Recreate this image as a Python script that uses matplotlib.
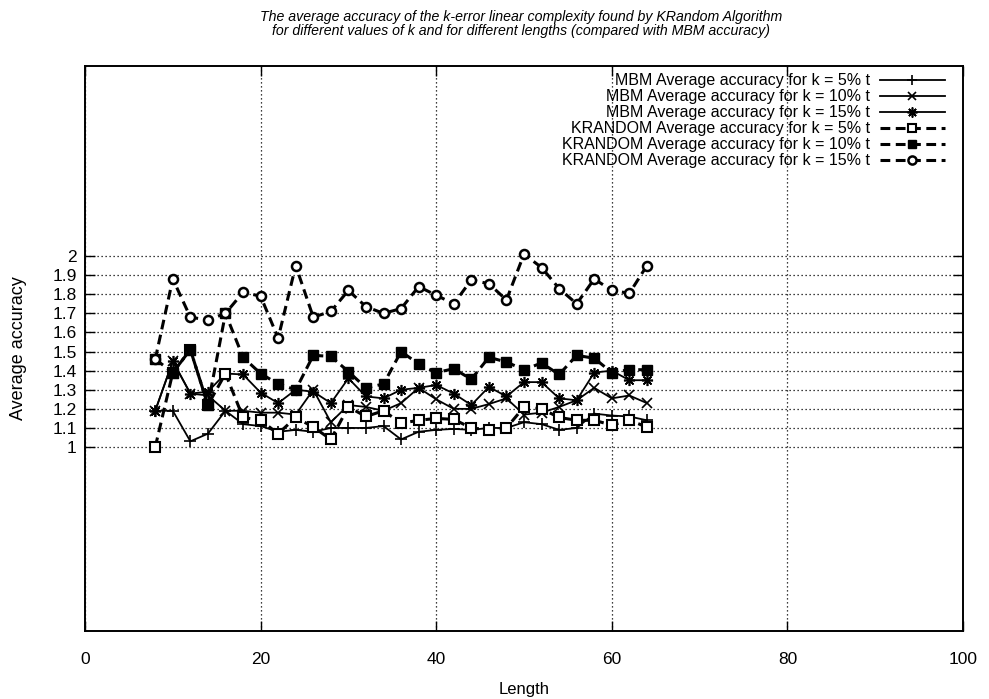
import matplotlib
matplotlib.use("Agg")
import matplotlib.pyplot as plt
from matplotlib.lines import Line2D

plt.rcParams['font.family'] = ['Liberation Sans', 'DejaVu Sans']

lengths = [8, 10, 12, 14, 16, 18, 20, 22, 24, 26, 28, 30, 32, 34, 36, 38,
           40, 42, 44, 46, 48, 50, 52, 54, 56, 58, 60, 62, 64]

mbm_5 = [1.19, 1.19, 1.03, 1.07, 1.19, 1.12, 1.11, 1.08, 1.09, 1.08, 1.10, 1.10,
         1.10, 1.11, 1.04, 1.08, 1.09, 1.095, 1.09, 1.10, 1.10, 1.13, 1.12, 1.09,
         1.10, 1.175, 1.165, 1.16, 1.14]
mbm_10 = [1.19, 1.45, 1.28, 1.27, 1.19, 1.19, 1.18, 1.18, 1.17, 1.30, 1.13, 1.22,
          1.21, 1.19, 1.23, 1.31, 1.25, 1.20, 1.20, 1.225, 1.255, 1.17, 1.18, 1.21,
          1.245, 1.31, 1.255, 1.27, 1.23]
mbm_15 = [1.19, 1.45, 1.28, 1.29, 1.385, 1.38, 1.285, 1.23, 1.30, 1.29, 1.23, 1.36,
          1.265, 1.255, 1.30, 1.31, 1.325, 1.28, 1.22, 1.315, 1.265, 1.34, 1.34,
          1.255, 1.245, 1.39, 1.40, 1.35, 1.35]
krandom_5 = [1.00, 1.39, 1.51, 1.22, 1.385, 1.155, 1.14, 1.07, 1.155, 1.105, 1.04,
             1.21, 1.16, 1.19, 1.125, 1.14, 1.15, 1.145, 1.10, 1.09, 1.10, 1.21,
             1.20, 1.155, 1.14, 1.14, 1.115, 1.14, 1.105]
krandom_10 = [1.46, 1.39, 1.51, 1.22, 1.70, 1.47, 1.385, 1.33, 1.30, 1.48, 1.475,
              1.395, 1.31, 1.33, 1.50, 1.435, 1.39, 1.41, 1.355, 1.47, 1.445, 1.405,
              1.44, 1.38, 1.48, 1.465, 1.39, 1.405, 1.405]
krandom_15 = [1.46, 1.88, 1.68, 1.665, 1.70, 1.81, 1.79, 1.57, 1.95, 1.68, 1.71,
              1.82, 1.735, 1.70, 1.725, 1.84, 1.795, 1.75, 1.875, 1.855, 1.77, 2.01,
              1.94, 1.83, 1.75, 1.88, 1.82, 1.805, 1.95]

labels = [
    "MBM Average accuracy for k = 5% t",
    "MBM Average accuracy for k = 10% t",
    "MBM Average accuracy for k = 15% t",
    "KRANDOM Average accuracy for k = 5% t",
    "KRANDOM Average accuracy for k = 10% t",
    "KRANDOM Average accuracy for k = 15% t",
]

title = ("The average accuracy of the k-error linear complexity found by KRandom Algorithm\n"
         "for different values of k and for different lengths (compared with MBM accuracy)")

x_ticks = [0, 20, 40, 60, 80, 100]
y_ticks = [1, 1.1, 1.2, 1.3, 1.4, 1.5, 1.6, 1.7, 1.8, 1.9, 2]
y_tick_labels = ["1", "1.1", "1.2", "1.3", "1.4", "1.5", "1.6", "1.7", "1.8", "1.9", "2"]

asterisk = (8, 2, 0)
solid = dict(color='black', lw=1.3, linestyle='-')
dashed = dict(color='black', lw=2.2, linestyle=(0, (3.2, 1.8)))
styles = [
    dict(marker='+', ms=8, mew=1.2, **solid),
    dict(marker='x', ms=6.5, mew=1.2, **solid),
    dict(marker=asterisk, ms=8, mew=1.2, **solid),
    dict(marker='s', ms=6.5, mfc='white', mec='black', mew=1.5, **dashed),
    dict(marker='s', ms=7, mfc='black', mec='black', mew=1.0, **dashed),
    dict(marker='o', ms=6.5, mfc='white', mec='black', mew=1.8, **dashed),
]
series = [mbm_5, mbm_10, mbm_15, krandom_5, krandom_10, krandom_15]

W, H = 989, 699
fig = plt.figure(figsize=(W / 100, H / 100), dpi=100)
left, right, top, bottom = 85, 963, 66, 631
ax = fig.add_axes([left / W, 1 - bottom / H, (right - left) / W, (bottom - top) / H])

for vals, st in zip(series, styles):
    ax.plot(lengths, vals, dash_capstyle='butt', **st)

ax.set_xlim(0, 100)
ax.set_ylim(0.037, 2.995)
ax.set_xticks(x_ticks)
ax.set_yticks(y_ticks)
ax.set_yticklabels(y_tick_labels)
ax.tick_params(direction='in', length=7, width=1.0, top=True, right=True,
               labelsize=12.5)
ax.tick_params(axis='x', pad=15)
ax.tick_params(axis='y', pad=6)
ax.grid(True, color='black', linestyle=(0, (1, 2.2)), linewidth=0.9)
for s in ax.spines.values():
    s.set_linewidth(1.4)

ax.set_xlabel("Length", fontsize=12, labelpad=11)
ax.set_ylabel("Average accuracy", fontsize=13, labelpad=18)

fig.text(0.527, 0.985, title, ha='center', va='top', fontsize=10.2, style='italic',
         linespacing=1.0)

# key in the upper right, text right-aligned with the sample line on its right
row_y = [80, 96, 112, 128, 144, 160]
for lab, st, yp in zip(labels, styles, row_y):
    yf = 1 - yp / H
    fig.text(870 / W, yf, lab, ha='right', va='center', fontsize=11.5)
    st_line = {k: v for k, v in st.items() if k not in ('marker', 'ms', 'mfc', 'mec', 'mew')}
    fig.add_artist(Line2D([880 / W, 945 / W], [yf, yf], transform=fig.transFigure,
                          **st_line))
    fig.add_artist(Line2D([912 / W], [yf], transform=fig.transFigure, linestyle='none',
                          marker=st['marker'], ms=st['ms'] * 0.9,
                          mfc=st.get('mfc', 'black'), mec=st.get('mec', 'black'),
                          mew=st['mew'], color='black'))

fig.savefig("out.png", dpi=100)
